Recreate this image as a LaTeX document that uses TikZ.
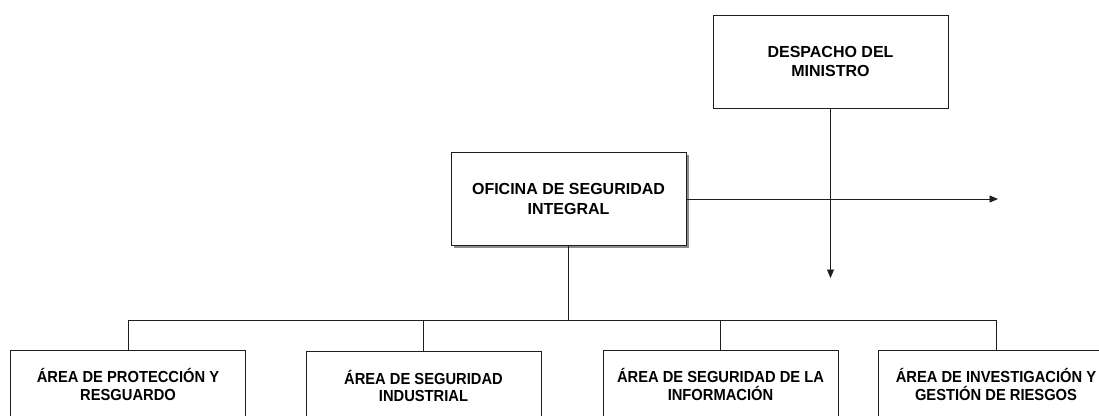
\documentclass[tikz,border=0pt]{standalone}
\usepackage{fontspec}
\setmainfont{Liberation Sans}
\newfontfamily\narrowfont[FakeStretch=0.92]{Liberation Sans}
\usetikzlibrary{arrows.meta,shadows}
\definecolor{linec}{HTML}{1E1E1E}
\tikzset{
  topbox/.style={draw=linec, line width=0.9pt, fill=white, minimum width=235pt, minimum height=93pt,
    align=center, inner sep=0pt, font=\fontsize{16}{19.5}\selectfont\bfseries},
  areabox/.style={draw=linec, line width=0.9pt, fill=white, minimum width=235pt, minimum height=69pt,
    align=center, inner sep=0pt, font=\narrowfont\fontsize{16}{17.5}\selectfont\bfseries},
  conn/.style={draw=linec, line width=0.8pt},
  arr/.style={conn, -{Triangle[length=8.5pt,width=7pt]}}
}
\begin{document}
\begin{tikzpicture}[x=1pt,y=-1pt]
\useasboundingbox (0,0) rectangle (1099,415);
\clip (0,0) rectangle (1099,415);
\fill[white] (0,0) rectangle (1099,415);
% top boxes
\node[topbox] (desp) at (830.5,61.5) {DESPACHO DEL\\MINISTRO};
\node[topbox, drop shadow={shadow xshift=2.5pt, shadow yshift=-2.5pt, fill=black!45, opacity=1}] (ofi) at (568.5,199) {OFICINA DE SEGURIDAD\\INTEGRAL};
% area boxes
\node[areabox] (a1) at (128,384.5) {ÁREA DE PROTECCIÓN Y\\RESGUARDO};
\node[areabox] (a2) at (423.5,386) {ÁREA DE SEGURIDAD\\INDUSTRIAL};
\node[areabox] (a3) at (720.5,384.5) {ÁREA DE SEGURIDAD DE LA\\INFORMACIÓN};
\node[areabox] (a4) at (996,384.5) {ÁREA DE INVESTIGACIÓN Y\\GESTIÓN DE RIESGOS};
% free ends
\coordinate (downend) at (830.5,278);
\coordinate (rightend) at (998,199);
\coordinate (bus) at (568.5,320);
% connectors
\draw[arr] (desp.south) -- (downend);
\draw[arr] (ofi.east) -- (rightend);
\draw[conn] (ofi.south) -- (bus);
\draw[conn] (a1.north) -- (a1.north |- bus) -- (a4.north |- bus) -- (a4.north);
\draw[conn] (a2.north) -- (a2.north |- bus);
\draw[conn] (a3.north) -- (a3.north |- bus);
\end{tikzpicture}
\end{document}
